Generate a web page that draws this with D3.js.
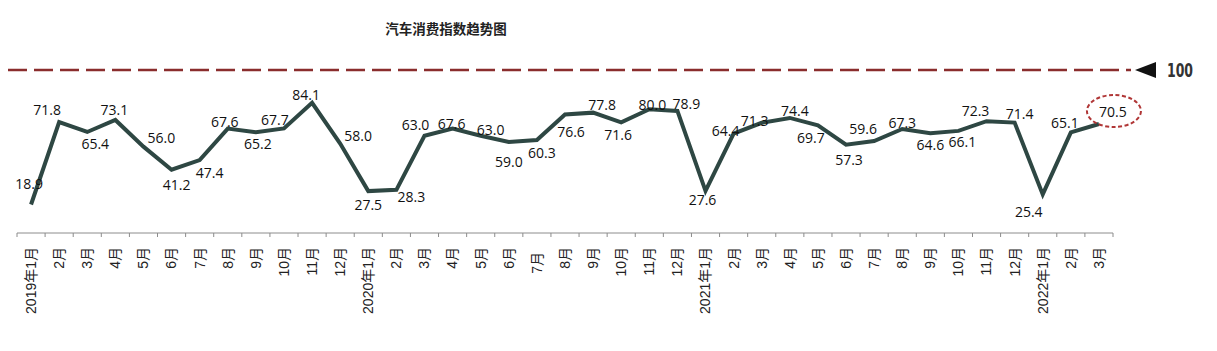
<!DOCTYPE html>
<html>
<head>
<meta charset="utf-8">
<script src="https://cdn.jsdelivr.net/npm/d3@7"></script>
<style>
  body { margin: 0; background: #fff; }
  svg { display: block; }
</style>
</head>
<body>
<div class="chart"></div>
<script>
// data
const titulo = "汽车消费指数趋势图";
const meses = [
  "2019年1月","2月","3月","4月","5月","6月","7月","8月","9月","10月","11月","12月",
  "2020年1月","2月","3月","4月","5月","6月","7月","8月","9月","10月","11月","12月",
  "2021年1月","2月","3月","4月","5月","6月","7月","8月","9月","10月","11月","12月",
  "2022年1月","2月","3月"
];
const indice = [
  18.9, 71.8, 65.4, 73.1, 56.0, 41.2, 47.4, 67.6, 65.2, 67.7, 84.1, 58.0,
  27.5, 28.3, 63.0, 67.6, 63.0, 59.0, 60.3, 76.6, 77.8, 71.6, 80.0, 78.9,
  27.6, 64.4, 71.3, 74.4, 69.7, 57.3, 59.6, 67.3, 64.6, 66.1, 72.3, 71.4,
  25.4, 65.1, 70.5
];
const referencia = 100;

// label nudges (dx, dy from the point), like hand-placed excel labels
const ajuste = [
  [-2,-21],[-12,-12],[8,12],[-1,-10],[18,-9],[5,15],[10,12],[-3,-7],[2,11],[-9,-9],[-6,-8],[18,-8],
  [0,13],[15,7],[-9,-11],[-1,-5],[10,-6],[0,20],[5,13],[6,17],[9,-8],[-3,12],[3,-5],[9,-7],
  [-3,9],[-8,-3],[-7,-2],[5,-7],[-7,12],[3,15],[-11,-13],[0,-7],[0,11],[4,11],[-11,-11],[5,-9],
  [-14,17],[-6,-10],[14,-13]
];

// Mesures
const size = { width: 1217, height: 351 };
const ejeY = 233;

const svg = d3.select(".chart")
  .append("svg")
  .attr("width", size.width)
  .attr("height", size.height);

const x = d3.scaleBand()
  .domain(d3.range(meses.length))
  .range([17, 1113])
  .padding(0);

const y = d3.scaleLinear()
  .domain([0, 100])
  .range([234, 78]);

const cx = (i) => x(i) + x.bandwidth() / 2;

// title
svg.append("text")
  .attr("x", 446)
  .attr("y", 28)
  .attr("text-anchor", "middle")
  .attr("dominant-baseline", "central")
  .attr("font-family", "'Noto Sans CJK SC', sans-serif")
  .attr("font-weight", "bold")
  .attr("font-size", 13.5)
  .attr("fill", "#222")
  .text(titulo);

// reference line 100
svg.append("line")
  .attr("x1", 8)
  .attr("x2", 1131)
  .attr("y1", 70)
  .attr("y2", 70)
  .attr("stroke", "#8a2d2d")
  .attr("stroke-width", 2.5)
  .attr("stroke-dasharray", "19 7");

svg.append("path")
  .attr("d", "M1135,70 L1156,62 L1156,78 Z")
  .attr("fill", "#111");

svg.append("text")
  .attr("x", 1167)
  .attr("y", 70)
  .attr("dominant-baseline", "central")
  .attr("font-family", "'DejaVu Sans Condensed', 'Liberation Sans Narrow', sans-serif")
  .attr("font-weight", "bold")
  .attr("font-size", 20)
  .attr("textLength", 26)
  .attr("lengthAdjust", "spacingAndGlyphs")
  .attr("fill", "#333")
  .text(referencia);

// x axis
const ejeX = svg.append("g")
  .attr("transform", `translate(0,${ejeY})`);

ejeX.append("line")
  .attr("x1", x.range()[0])
  .attr("x2", x.range()[1])
  .attr("stroke", "#8c8c8c")
  .attr("stroke-width", 1);

ejeX.selectAll(".tick-mark")
  .data(d3.range(meses.length + 1))
  .enter()
  .append("line")
  .attr("class", "tick-mark")
  .attr("x1", (d) => x.range()[0] + d * x.step())
  .attr("x2", (d) => x.range()[0] + d * x.step())
  .attr("y1", 0)
  .attr("y2", 4)
  .attr("stroke", "#8c8c8c");

const etiquetas = ejeX.append("g")
  .call(d3.axisBottom(x).tickSize(0).tickFormat((i) => meses[i]));
etiquetas.select(".domain").remove();
etiquetas.selectAll("text")
  .attr("transform", "rotate(-90)")
  .attr("x", (i) => i === 18 ? -19 : -14)
  .attr("y", 0)
  .attr("dy", "0.35em")
  .style("text-anchor", "end")
  .attr("font-family", "'Liberation Sans', 'Noto Sans CJK SC', sans-serif")
  .attr("font-size", 14)
  .attr("fill", "#222");

// line
const linea = d3.line()
  .x((d, i) => cx(i))
  .y((d) => y(d));

svg.append("path")
  .datum(indice)
  .attr("d", linea)
  .attr("fill", "none")
  .attr("stroke", "#2e4743")
  .attr("stroke-width", 4)
  .attr("stroke-linejoin", "miter");

// data labels
svg.selectAll(".valor")
  .data(indice)
  .enter()
  .append("text")
  .attr("class", "valor")
  .attr("x", (d, i) => cx(i) + ajuste[i][0])
  .attr("y", (d, i) => y(d) + ajuste[i][1])
  .attr("text-anchor", "middle")
  .attr("dominant-baseline", "central")
  .attr("font-family", "'Open Sans', sans-serif")
  .attr("font-size", 14)
  .attr("fill", "#111")
  .text((d) => d.toFixed(1));

// highlight last value
const ultimo = indice.length - 1;
svg.append("ellipse")
  .attr("cx", cx(ultimo) + ajuste[ultimo][0] + 1)
  .attr("cy", y(indice[ultimo]) + ajuste[ultimo][1])
  .attr("rx", 27)
  .attr("ry", 16)
  .attr("fill", "none")
  .attr("stroke", "#b03636")
  .attr("stroke-width", 2)
  .attr("stroke-dasharray", "4 2.5");
</script>
</body>
</html>
